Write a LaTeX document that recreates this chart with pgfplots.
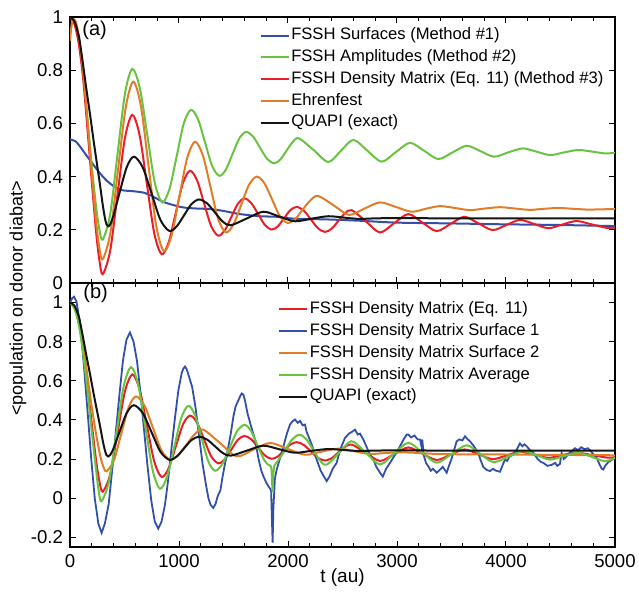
\documentclass[border=0pt]{standalone}
\usepackage{fontspec}
\setmainfont{Liberation Sans}
\usepackage{pgfplots}
\usepackage{pgfplotstable}
\pgfplotsset{compat=1.18}

\definecolor{cblue}{RGB}{50,80,170}
\definecolor{cgreen}{RGB}{105,195,65}
\definecolor{cred}{RGB}{235,30,40}
\definecolor{corange}{RGB}{225,125,40}
\definecolor{cblack}{RGB}{20,20,20}

% panel (a) and shared curves
\pgfplotstableread{
t y
0 0.540
50 0.533
92 0.513
150 0.480
214 0.445
260 0.420
306 0.398
350 0.380
398 0.365
445 0.354
489 0.348
581 0.345
673 0.340
720 0.333
765 0.324
856 0.305
948 0.293
1040 0.284
1162 0.280
1284 0.278
1407 0.271
1480 0.265
1560 0.259
1743 0.251
1896 0.249
2049 0.242
2355 0.239
2661 0.234
2997 0.227
3500 0.224
3914 0.221
4500 0.218
5000 0.214
}\surfA

\pgfplotstableread{
t y
0 1.000
40 0.977
80 0.910
120 0.790
160 0.620
200 0.440
240 0.285
270 0.200
300 0.163
368 0.257
436 0.484
504 0.711
572 0.805
641 0.732
710 0.554
778 0.376
847 0.303
913 0.354
979 0.477
1044 0.600
1110 0.651
1175 0.615
1240 0.527
1305 0.439
1370 0.403
1431 0.427
1492 0.486
1554 0.544
1615 0.568
1679 0.551
1743 0.509
1808 0.467
1872 0.450
1929 0.464
1986 0.497
2043 0.530
2100 0.544
2235 0.500
2370 0.455
2485 0.497
2600 0.538
2730 0.497
2859 0.456
2989 0.492
3119 0.527
3249 0.497
3379 0.466
3509 0.491
3639 0.516
3765 0.496
3890 0.475
4021 0.491
4153 0.506
4279 0.494
4404 0.481
4533 0.491
4663 0.500
4789 0.494
4915 0.487
5000 0.490
}\amplA

\pgfplotstableread{
t y
0 1.000
40 0.975
80 0.900
120 0.770
160 0.580
200 0.380
240 0.190
270 0.085
300 0.033
368 0.120
436 0.333
504 0.545
572 0.632
639 0.555
706 0.370
774 0.185
841 0.108
906 0.154
971 0.265
1036 0.376
1101 0.422
1166 0.386
1230 0.300
1295 0.214
1360 0.178
1420 0.198
1480 0.248
1540 0.298
1600 0.318
1662 0.301
1725 0.260
1788 0.218
1850 0.201
1907 0.213
1965 0.244
2022 0.274
2080 0.286
2145 0.272
2210 0.239
2274 0.206
2339 0.192
2400 0.204
2462 0.233
2523 0.262
2584 0.274
2714 0.232
2844 0.190
2974 0.225
3104 0.259
3234 0.227
3364 0.195
3491 0.222
3618 0.249
3748 0.224
3878 0.199
4003 0.218
4128 0.237
4258 0.222
4388 0.206
4518 0.220
4648 0.233
4790 0.220
4930 0.207
5000 0.209
}\densmat

\pgfplotstableread{
t y
0 0.910
12 0.960
25 0.990
50 0.985
80 0.930
120 0.800
160 0.610
200 0.410
240 0.230
270 0.130
300 0.089
370 0.187
440 0.423
511 0.659
581 0.757
651 0.664
721 0.439
792 0.213
862 0.120
933 0.180
1004 0.326
1076 0.471
1147 0.531
1218 0.481
1289 0.361
1360 0.240
1431 0.190
1501 0.221
1572 0.295
1642 0.369
1713 0.400
1784 0.375
1855 0.313
1926 0.251
1997 0.226
2067 0.241
2137 0.277
2208 0.312
2278 0.327
2419 0.292
2560 0.256
2702 0.280
2844 0.303
2989 0.286
3134 0.268
3264 0.279
3394 0.289
3532 0.282
3670 0.274
3807 0.280
3945 0.285
4082 0.280
4220 0.275
4350 0.279
4480 0.282
4615 0.279
4750 0.276
4875 0.277
5000 0.278
}\ehrenfest

\pgfplotstableread{
t y
0 1.000
40 0.985
80 0.930
110 0.850
150 0.730
185 0.630
220 0.525
250 0.440
275 0.370
300 0.295
320 0.245
335 0.220
350 0.213
368 0.220
400 0.255
457 0.343
522 0.437
587 0.475
668 0.434
749 0.336
830 0.237
911 0.196
979 0.213
1047 0.255
1115 0.297
1183 0.314
1256 0.300
1328 0.266
1401 0.231
1474 0.217
1624 0.243
1774 0.268
1919 0.250
2064 0.232
2217 0.242
2370 0.251
2510 0.246
2650 0.241
2800 0.243
3000 0.244
3500 0.243
4000 0.243
5000 0.243
}\quapi

% panel (b)
\pgfplotstableread{
t y
0 1.000
20 1.022
37 1.030
60 1.005
100 0.860
130 0.660
163 0.430
195 0.200
227 0.000
260 -0.130
290 -0.178
320 -0.130
355 -0.030
388 0.150
420 0.335
452 0.520
485 0.700
518 0.810
550 0.847
583 0.800
615 0.700
648 0.530
680 0.345
712 0.160
745 -0.010
778 -0.120
810 -0.156
840 -0.120
871 -0.035
900 0.090
932 0.260
963 0.410
994 0.550
1025 0.640
1040 0.662
1055 0.673
1070 0.660
1090 0.625
1120 0.570
1150 0.470
1185 0.315
1215 0.180
1250 0.060
1270 0.000
1290 -0.035
1315 -0.050
1335 -0.030
1355 0.010
1380 0.040
1400 0.110
1420 0.170
1445 0.240
1475 0.330
1500 0.420
1520 0.470
1545 0.500
1560 0.520
1575 0.535
1590 0.530
1605 0.500
1630 0.430
1660 0.370
1697 0.300
1730 0.200
1755 0.140
1774 0.112
1800 0.080
1820 0.061
1845 0.040
1852 -0.100
1859 -0.228
1866 -0.050
1880 0.100
1896 0.146
1925 0.200
1958 0.265
1990 0.330
2018 0.376
2040 0.392
2064 0.402
2090 0.385
2110 0.395
2135 0.372
2156 0.376
2170 0.340
2187 0.317
2220 0.270
2263 0.197
2300 0.140
2330 0.110
2355 0.087
2380 0.110
2410 0.150
2446 0.180
2480 0.250
2523 0.308
2560 0.330
2590 0.340
2615 0.350
2640 0.325
2660 0.330
2691 0.300
2730 0.250
2760 0.215
2783 0.197
2810 0.160
2844 0.130
2870 0.110
2900 0.150
2936 0.180
2980 0.220
3028 0.265
3060 0.300
3089 0.325
3104 0.325
3130 0.310
3160 0.320
3190 0.300
3211 0.300
3226 0.260
3232 0.300
3245 0.220
3266 0.180
3290 0.160
3310 0.140
3330 0.150
3364 0.130
3385 0.140
3420 0.160
3456 0.130
3480 0.170
3500 0.200
3517 0.232
3547 0.290
3570 0.300
3600 0.295
3624 0.316
3650 0.300
3670 0.290
3700 0.270
3746 0.230
3770 0.190
3791 0.160
3820 0.145
3853 0.138
3880 0.150
3910 0.140
3945 0.135
3970 0.170
3991 0.197
4010 0.190
4030 0.210
4067 0.223
4100 0.250
4128 0.280
4150 0.265
4170 0.275
4190 0.265
4220 0.245
4251 0.232
4290 0.200
4320 0.185
4343 0.180
4380 0.165
4420 0.170
4450 0.180
4470 0.165
4495 0.175
4510 0.230
4530 0.200
4557 0.214
4590 0.235
4633 0.255
4660 0.245
4690 0.260
4720 0.250
4750 0.255
4771 0.245
4800 0.225
4832 0.206
4860 0.170
4880 0.150
4893 0.146
4910 0.165
4940 0.185
4970 0.195
5000 0.206
}\surfone

\pgfplotstableread{
t y
0 1.000
40 0.975
80 0.900
120 0.780
160 0.625
200 0.465
240 0.325
280 0.210
310 0.155
336 0.137
403 0.193
470 0.329
538 0.464
605 0.520
683 0.473
761 0.359
839 0.244
917 0.197
993 0.219
1070 0.274
1146 0.328
1223 0.350
1376 0.282
1529 0.214
1682 0.248
1835 0.282
1995 0.252
2156 0.222
2309 0.238
2462 0.253
2606 0.240
2750 0.226
2900 0.231
3050 0.234
3225 0.230
3400 0.225
3700 0.224
4000 0.223
4500 0.221
5000 0.219
}\surftwo

\pgfplotstableread{
t y
0 1.000
40 0.970
80 0.890
120 0.740
160 0.550
200 0.340
240 0.140
265 0.030
290 -0.016
357 0.084
425 0.327
492 0.570
560 0.670
626 0.579
693 0.359
760 0.139
826 0.048
891 0.110
956 0.260
1021 0.410
1086 0.472
1147 0.424
1208 0.306
1269 0.188
1330 0.140
1397 0.174
1465 0.258
1532 0.341
1600 0.375
1660 0.344
1720 0.270
1780 0.196
1820 0.170
1845 0.160
1853 0.100
1859 0.030
1864 0.110
1875 0.165
1906 0.190
1972 0.245
2038 0.300
2104 0.324
2167 0.302
2230 0.248
2292 0.193
2355 0.171
2469 0.231
2583 0.291
2714 0.232
2844 0.172
2974 0.228
3104 0.283
3234 0.232
3364 0.181
3502 0.226
3639 0.270
3762 0.227
3884 0.184
4022 0.212
4159 0.240
4282 0.219
4404 0.197
4534 0.215
4663 0.232
4786 0.211
4908 0.189
5000 0.206
}\average

\pgfplotsset{
  panel/.style={
    scale only axis, width=272.5pt,
    xmin=0, xmax=5000, xtick={0,1000,2000,3000,4000,5000}, minor x tick num=4,
    scaled x ticks=false,
    /pgf/number format/1000 sep={},
    /pgf/number format/assume math mode=true,
    tick align=inside, major tick length=3pt, minor tick length=1.8pt,
    axis line style={line width=0.6pt},
    every tick/.style={black, line width=0.5pt},
    tick label style={font=\fontsize{9.3}{11}\selectfont},
    legend cell align=left,
    legend image code/.code={\draw[##1] (0pt,0pt) -- (14pt,0pt);},
    every axis plot/.append style={line width=1pt},
  },
  legstyle/.style={legend style={draw=none, fill=none, inner sep=0pt, outer sep=0pt,
    font=\fontsize{8.3}{10}\selectfont, row sep=0.3pt,
    nodes={inner sep=0.8pt, text height=6.6pt, text depth=2.4pt}}},
}

\begin{document}
\begin{tikzpicture}

\begin{axis}[panel, legstyle, at={(35pt,154pt)}, anchor=south west, height=133pt,
    ymin=0, ymax=1, ytick={0,0.2,0.4,0.6,0.8,1}, xticklabels={},
    legend style={at={(0.348,0.970)}, anchor=north west}]
  \addplot[cblue, smooth] table[x=t, y=y] {\surfA};
  \addlegendentry{FSSH Surfaces (Method \#1)}
  \addplot[cgreen, smooth] table[x=t, y=y] {\amplA};
  \addlegendentry{FSSH Amplitudes (Method \#2)}
  \addplot[cred, smooth] table[x=t, y=y] {\densmat};
  \addlegendentry{FSSH Density Matrix (Eq. 11) (Method \#3)}
  \addplot[corange, smooth] table[x=t, y=y] {\ehrenfest};
  \addlegendentry{Ehrenfest}
  \addplot[cblack, smooth] table[x=t, y=y] {\quapi};
  \addlegendentry{QUAPI (exact)}
\end{axis}

\begin{axis}[panel, legstyle, at={(35pt,22pt)}, anchor=south west, height=132pt,
    ymin=-0.25, ymax=1.1, ytick={-0.2,0,0.2,0.4,0.6,0.8,1},
    legend style={at={(0.382,0.940)}, anchor=north west}]
  \addplot[cred, smooth] table[x=t, y=y] {\densmat};
  \addlegendentry{FSSH Density Matrix (Eq. 11)}
  \addplot[cblue, line width=0.9pt] table[x=t, y=y] {\surfone};
  \addlegendentry{FSSH Density Matrix Surface 1}
  \addplot[corange, smooth] table[x=t, y=y] {\surftwo};
  \addlegendentry{FSSH Density Matrix Surface 2}
  \addplot[cgreen, smooth] table[x=t, y=y] {\average};
  \addlegendentry{FSSH Density Matrix Average}
  \addplot[cblack, smooth] table[x=t, y=y] {\quapi};
  \addlegendentry{QUAPI (exact)}
\end{axis}

\node[anchor=west, inner sep=0pt, font=\fontsize{10}{12}\selectfont] at (41pt,280.5pt) {(a)};
\node[anchor=west, inner sep=0pt, font=\fontsize{10}{12}\selectfont] at (41.5pt,149pt) {(b)};
\node[rotate=90, inner sep=0pt, font=\fontsize{9}{11}\selectfont] at (9pt,146.25pt) {<population on donor diabat>};
\node[inner sep=0pt, font=\fontsize{9.5}{11}\selectfont] at (171.25pt,6.5pt) {t (au)};

\pgfresetboundingbox
\path[use as bounding box] (0,0) rectangle (319.5pt,295.5pt);
\end{tikzpicture}
\end{document}
